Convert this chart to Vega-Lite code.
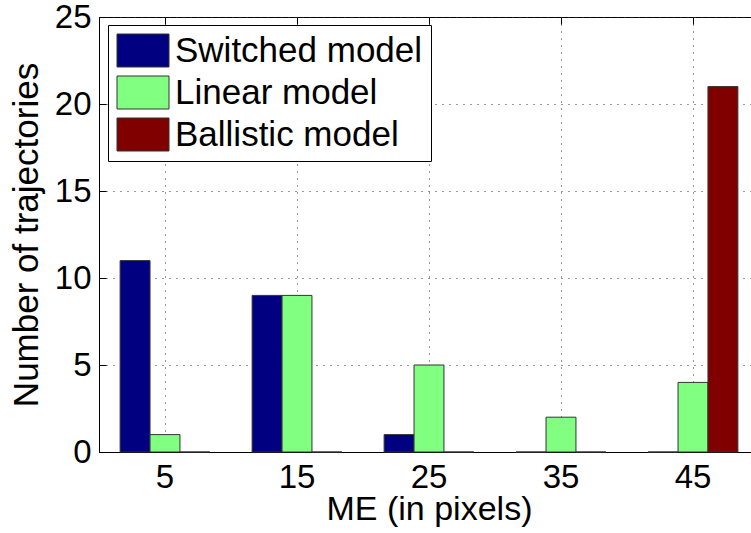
{
  "$schema": "https://vega.github.io/schema/vega-lite/v6.json",
  "width": 652,
  "height": 435,
  "autosize": {"type": "none"},
  "padding": {"left": 99, "top": 17, "right": 0, "bottom": 81},
  "config": {
    "font": "Liberation Sans",
    "view": {"stroke": "black", "strokeWidth": 1},
    "axis": {
      "labelColor": "black",
      "titleColor": "black",
      "titleFontWeight": "normal",
      "domainColor": "black",
      "tickColor": "black",
      "gridColor": "#333333",
      "gridDash": [1, 6],
      "gridWidth": 1,
      "gridOpacity": 1
    }
  },
  "data": {
    "values": [
      {"me": 5, "model": "Switched model", "count": 11},
      {"me": 5, "model": "Linear model", "count": 1},
      {"me": 5, "model": "Ballistic model", "count": 0},
      {"me": 15, "model": "Switched model", "count": 9},
      {"me": 15, "model": "Linear model", "count": 9},
      {"me": 15, "model": "Ballistic model", "count": 0},
      {"me": 25, "model": "Switched model", "count": 1},
      {"me": 25, "model": "Linear model", "count": 5},
      {"me": 25, "model": "Ballistic model", "count": 0},
      {"me": 35, "model": "Switched model", "count": 0},
      {"me": 35, "model": "Linear model", "count": 2},
      {"me": 35, "model": "Ballistic model", "count": 0},
      {"me": 45, "model": "Switched model", "count": 0},
      {"me": 45, "model": "Linear model", "count": 4},
      {"me": 45, "model": "Ballistic model", "count": 21}
    ]
  },
  "resolve": {"axis": {"x": "independent"}},
  "layer": [
    {
      "mark": {"type": "bar", "stroke": "#333333", "strokeWidth": 1, "opacity": 1},
      "encoding": {
        "x": {
          "field": "me",
          "type": "ordinal",
          "scale": {"range": [0, 660], "paddingInner": 0.32, "paddingOuter": 0.16},
          "axis": {
            "title": "ME (in pixels)",
            "titleFontSize": 34,
            "titlePadding": -2,
            "labelFontSize": 33,
            "labelAngle": 0,
            "labelPadding": 16,
            "tickSize": -7,
            "grid": true
          }
        },
        "xOffset": {
          "field": "model",
          "type": "nominal",
          "sort": ["Switched model", "Linear model", "Ballistic model"],
          "scale": {"domain": ["Switched model", "Linear model", "Ballistic model"], "paddingInner": 0, "paddingOuter": 0}
        },
        "y": {
          "field": "count",
          "type": "quantitative",
          "scale": {"domain": [0, 25], "nice": false},
          "axis": {
            "title": "Number of trajectories",
            "titleFontSize": 35,
            "titlePadding": 10,
            "labelFontSize": 33,
            "labelPadding": 15,
            "values": [0, 5, 10, 15, 20, 25],
            "tickSize": -7,
            "grid": true
          }
        },
        "color": {
          "field": "model",
          "type": "nominal",
          "sort": ["Switched model", "Linear model", "Ballistic model"],
          "scale": {
            "domain": ["Switched model", "Linear model", "Ballistic model"],
            "range": ["#000080", "#80ff80", "#800000"]
          },
          "legend": {
            "title": null,
            "orient": "none",
            "legendX": 9,
            "legendY": 8,
            "fillColor": "white",
            "strokeColor": "black",
            "padding": 8,
            "labelFontSize": 35,
            "labelColor": "black",
            "labelLimit": 400,
            "labelOffset": 24,
            "rowPadding": 5,
            "symbolType": "M-1,-1H2.152V1H-1Z",
            "symbolSize": 1089,
            "symbolStrokeColor": "#333333",
            "symbolStrokeWidth": 1,
            "symbolOpacity": 1
          }
        }
      }
    },
    {
      "mark": {"type": "tick", "opacity": 0},
      "encoding": {
        "x": {
          "field": "me",
          "type": "ordinal",
          "axis": {
            "orient": "top",
            "title": null,
            "labels": false,
            "domain": false,
            "grid": false,
            "tickSize": -7
          }
        }
      }
    }
  ]
}
